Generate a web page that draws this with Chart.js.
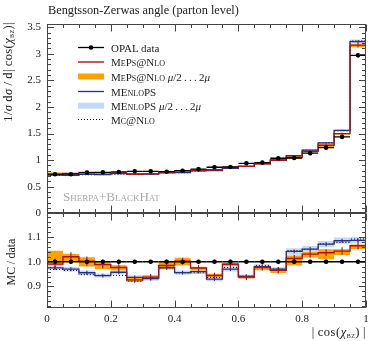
<!DOCTYPE html>
<html>
<head>
<meta charset="utf-8">
<script src="https://cdn.jsdelivr.net/npm/chart.js@4.4.0/dist/chart.umd.min.js"></script>
<style>
body { margin: 0; background: #fff; }
#wrap { position: relative; width: 378px; height: 341px; font-family: 'Liberation Serif', 'DejaVu Serif', serif; color: #222; }
#wrap canvas { position: absolute; left: 0; top: 0; }
.t { position: absolute; white-space: nowrap; line-height: 12px; }
.sc { font-variant: small-caps; }
sub { font-size: 0.72em; vertical-align: -0.25em; line-height: 0; }
</style>
</head>
<body>
<div id="wrap">
  <canvas id="chartdiv" width="378" height="341"></canvas>
  <div class="t" style="left:48px;top:4px;font-size:12.3px">Bengtsson-Zerwas angle (parton level)</div>
  <div class="t" style="left:2px;top:142px;width:120px;text-align:right;font-size:12.5px;letter-spacing:0.4px;transform-origin:0 0;transform:rotate(-90deg)">1/<i>σ</i>&thinsp;d<i>σ</i>&thinsp;/&thinsp;d|&thinsp;cos(<i>χ</i><sub class="sc">bz</sub>)|</div>
  <div class="t" style="left:5px;top:312px;width:100px;text-align:center;font-size:12px;transform-origin:0 0;transform:rotate(-90deg)">MC&thinsp;/&thinsp;data</div>
  <div class="t" style="right:12px;top:326px;font-size:12.5px;letter-spacing:0.5px">|&thinsp;cos(<i>χ</i><sub class="sc">bz</sub>)&thinsp;|</div>
  <div class="t sc" style="left:63px;top:191px;font-size:13px;color:#aaa">Sherpa+BlackHat</div>
  <div class="t" style="left:111px;top:41.5px;font-size:11px">OPAL data</div>
  <div class="t" style="left:111px;top:56px;font-size:11px"><span class="sc">MePs@Nlo</span></div>
  <div class="t" style="left:111px;top:70.5px;font-size:11px"><span class="sc">MePs@Nlo</span> <i>μ</i>/2&thinsp;.&thinsp;.&thinsp;.&thinsp;2<i>μ</i></div>
  <div class="t" style="left:111px;top:85.5px;font-size:11px"><span class="sc">MEnloPS</span></div>
  <div class="t" style="left:111px;top:99.7px;font-size:11px"><span class="sc">MEnloPS</span> <i>μ</i>/2&thinsp;.&thinsp;.&thinsp;.&thinsp;2<i>μ</i></div>
  <div class="t" style="left:111px;top:113.5px;font-size:11px"><span class="sc">Mc@Nlo</span></div>
</div>
<script>
// bins of |cos(chi_BZ)|
const binLo = [0, 0.05, 0.1, 0.15, 0.2, 0.25, 0.3, 0.35, 0.4, 0.45, 0.5, 0.55, 0.6, 0.65, 0.7, 0.75, 0.8, 0.85, 0.9, 0.95];
const binW = 0.05;

const opalData = [0.735, 0.735, 0.765, 0.770, 0.778, 0.790, 0.790, 0.782, 0.800, 0.830, 0.866, 0.872, 0.940, 0.953, 1.035, 1.040, 1.130, 1.235, 1.437, 2.970];
const opalErr  = [0.006, 0.006, 0.006, 0.006, 0.006, 0.006, 0.006, 0.006, 0.006, 0.006, 0.007, 0.007, 0.007, 0.007, 0.008, 0.008, 0.009, 0.010, 0.012, 0.025];

const mepsNlo  = [0.728, 0.750, 0.767, 0.761, 0.760, 0.732, 0.741, 0.770, 0.802, 0.809, 0.818, 0.863, 0.882, 0.931, 0.999, 1.054, 1.165, 1.280, 1.499, 3.163];
const mepsErr  = [0.016, 0.013, 0.014, 0.011, 0.010, 0.009, 0.010, 0.011, 0.011, 0.010, 0.010, 0.011, 0.011, 0.012, 0.013, 0.014, 0.016, 0.018, 0.022, 0.045];
const mepsLo   = [0.724, 0.735, 0.750, 0.747, 0.751, 0.725, 0.736, 0.761, 0.788, 0.801, 0.812, 0.856, 0.876, 0.920, 0.988, 1.024, 1.150, 1.247, 1.477, 3.124];
const mepsHi   = [0.768, 0.759, 0.779, 0.770, 0.767, 0.739, 0.747, 0.782, 0.813, 0.813, 0.824, 0.868, 0.886, 0.934, 1.004, 1.066, 1.175, 1.297, 1.509, 3.178];

const menlops    = [0.717, 0.713, 0.731, 0.727, 0.745, 0.740, 0.736, 0.763, 0.765, 0.797, 0.805, 0.846, 0.884, 0.934, 1.004, 1.084, 1.188, 1.323, 1.559, 3.228];
const menlopsErr = [0.006, 0.006, 0.006, 0.006, 0.006, 0.006, 0.006, 0.006, 0.006, 0.006, 0.006, 0.007, 0.007, 0.007, 0.008, 0.008, 0.009, 0.010, 0.012, 0.025];
const menlopsLo  = [0.711, 0.706, 0.723, 0.721, 0.738, 0.733, 0.729, 0.756, 0.758, 0.789, 0.798, 0.838, 0.875, 0.925, 0.995, 1.070, 1.173, 1.307, 1.541, 3.190];
const menlopsHi  = [0.724, 0.720, 0.738, 0.733, 0.752, 0.747, 0.743, 0.770, 0.772, 0.804, 0.813, 0.854, 0.892, 0.943, 1.013, 1.097, 1.202, 1.339, 1.578, 3.267];

const mcNlo = [0.712, 0.709, 0.725, 0.728, 0.735, 0.728, 0.739, 0.763, 0.764, 0.793, 0.811, 0.852, 0.886, 0.939, 1.004, 1.087, 1.187, 1.324, 1.549, 3.243];

const mainTicks  = [0, 0.5, 1, 1.5, 2, 2.5, 3, 3.5];
const ratioTicks = [0.9, 1.0, 1.1];
const xTicks     = [0, 0.2, 0.4, 0.6, 0.8, 1];

const RED = '#a8121a', BLUE = '#2a2f86', ORANGE = '#ffa200', LIGHTBLUE = '#c4daf6';
const FONT = { family: "'Liberation Serif', 'DejaVu Serif', serif", size: 11 };

const same = arr => arr;
const ratio = arr => arr.map((v, i) => v / opalData[i]);
// bin value held from its lower edge to the next one
const steps = arr => arr.map((v, i) => ({ x: binLo[i], y: v })).concat([{ x: binLo[binLo.length - 1] + binW, y: arr[arr.length - 1] }]);
const centres = arr => arr.map((v, i) => ({ x: binLo[i] + binW / 2, y: v }));

function band(hi, lo, color, axis, order) {
  return [
    { data: steps(hi), yAxisID: axis, stepped: 'before', borderWidth: 0, borderColor: 'transparent', backgroundColor: color, fill: '+1', pointRadius: 0, order: order },
    { data: steps(lo), yAxisID: axis, stepped: 'before', borderWidth: 0, borderColor: 'transparent', fill: false, pointRadius: 0, order: order }
  ];
}

function panel(axis, f) {
  return [
    ...band(f(menlopsHi), f(menlopsLo), LIGHTBLUE, axis, 10),
    ...band(f(mepsHi), f(mepsLo), ORANGE, axis, 9),
    { data: steps(f(mcNlo)), yAxisID: axis, stepped: 'before', borderColor: '#000', borderWidth: 1, borderDash: [1, 2], pointRadius: 0, fill: false, order: 5 },
    { data: steps(f(menlops)), yAxisID: axis, stepped: 'before', borderColor: BLUE, borderWidth: 1.3, pointRadius: 0, fill: false, order: 4,
      vals: f(menlops), errs: f(menlopsErr), barColor: BLUE },
    { data: steps(f(mepsNlo)), yAxisID: axis, stepped: 'before', borderColor: RED, borderWidth: 1.4, pointRadius: 0, fill: false, order: 3,
      vals: f(mepsNlo), errs: f(mepsErr), barColor: RED },
    { data: centres(f(opalData)), yAxisID: axis, showLine: false, pointRadius: 2.3, pointBackgroundColor: '#000', pointBorderWidth: 0, order: 1,
      vals: f(opalData), errs: f(opalErr), barColor: '#000', hbars: true }
  ];
}

const errorBars = {
  id: 'errorBars',
  afterDatasetDraw(chart, args) {
    const ds = chart.data.datasets[args.index];
    if (!ds.errs) return;
    const ctx = chart.ctx, xs = chart.scales.x, ys = chart.scales[ds.yAxisID];
    ctx.save();
    ctx.strokeStyle = ds.barColor;
    ctx.lineWidth = ds.hbars ? 1.3 : 1.1;
    ds.errs.forEach((e, i) => {
      const v = ds.vals[i];
      const px = xs.getPixelForValue(binLo[i] + binW / 2);
      ctx.beginPath();
      ctx.moveTo(px, ys.getPixelForValue(v - e));
      ctx.lineTo(px, ys.getPixelForValue(v + e));
      if (ds.hbars) {
        const py = ys.getPixelForValue(v);
        ctx.moveTo(xs.getPixelForValue(binLo[i]), py);
        ctx.lineTo(xs.getPixelForValue(binLo[i] + binW), py);
      }
      ctx.stroke();
    });
    ctx.restore();
  }
};

// frames with inward ticks on every side, plus the legend symbols
const frames = {
  id: 'frames',
  afterDraw(chart) {
    const ctx = chart.ctx, xs = chart.scales.x;
    const L = Math.round(xs.left) + 0.5, R = Math.round(xs.right) - 0.5;
    ctx.save();
    ctx.strokeStyle = '#444';
    ctx.lineWidth = 1;
    [['y', mainTicks, 0.1], ['yr', ratioTicks, 0.02]].forEach(([id, major, minorStep]) => {
      const ys = chart.scales[id];
      const T = Math.round(ys.top) + 0.5, B = Math.round(ys.bottom) - 0.5;
      ctx.strokeRect(L, T, R - L, B - T);
      ctx.beginPath();
      const start = Math.ceil(ys.min / minorStep - 1e-6);
      for (let k = start; k * minorStep <= ys.max + 1e-9; k++) {
        const v = k * minorStep;
        const isMajor = major.some(m => Math.abs(m - v) < 1e-6);
        const len = isMajor ? 6.5 : 3.5;
        const py = Math.round(ys.getPixelForValue(v)) + 0.5;
        ctx.moveTo(L, py); ctx.lineTo(L + len, py);
        ctx.moveTo(R, py); ctx.lineTo(R - len, py);
      }
      for (let k = 0; k <= 20; k++) {
        const v = k * 0.05;
        const isMajor = xTicks.some(m => Math.abs(m - v) < 1e-6);
        const len = isMajor ? 7 : 3.5;
        const px = Math.round(xs.getPixelForValue(v)) + 0.5;
        ctx.moveTo(px, B); ctx.lineTo(px, B - len);
        ctx.moveTo(px, T); ctx.lineTo(px, T + len);
      }
      ctx.stroke();
    });

    // legend symbols
    const lx0 = 78, lx1 = 104, rows = [47.5, 62, 76.5, 91.5, 105.7, 119.5];
    const line = (y, color, w, dash) => {
      ctx.beginPath();
      ctx.setLineDash(dash || []);
      ctx.strokeStyle = color; ctx.lineWidth = w;
      ctx.moveTo(lx0, y); ctx.lineTo(lx1, y); ctx.stroke();
      ctx.setLineDash([]);
    };
    line(rows[0], '#000', 1.3);
    ctx.fillStyle = '#000';
    ctx.beginPath(); ctx.arc((lx0 + lx1) / 2, rows[0], 2.3, 0, 2 * Math.PI); ctx.fill();
    line(rows[1], RED, 1.4);
    ctx.fillStyle = ORANGE; ctx.fillRect(lx0, rows[2] - 3, lx1 - lx0, 6);
    line(rows[3], BLUE, 1.3);
    ctx.fillStyle = LIGHTBLUE; ctx.fillRect(lx0, rows[4] - 3, lx1 - lx0, 6);
    line(rows[5], '#000', 1, [1, 2]);
    ctx.restore();
  }
};

const yTickOpts = (list, fmt) => ({
  afterBuildTicks: s => { s.ticks = list.map(v => ({ value: v })); },
  afterFit: s => { s.width = 47; },
  grid: { display: false, drawTicks: false, tickLength: 0 },
  border: { display: false },
  ticks: { font: FONT, color: '#222', padding: 6, autoSkip: false, callback: fmt }
});

const myChart = new Chart(document.getElementById('chartdiv'), {
  type: 'line',
  data: { datasets: [...panel('y', same), ...panel('yr', ratio)] },
  options: {
    responsive: false,
    animation: false,
    devicePixelRatio: 1,
    layout: { padding: { top: 24, right: 12, left: 0, bottom: 0 } },
    plugins: { legend: { display: false }, tooltip: { enabled: false } },
    scales: {
      x: {
        type: 'linear', min: 0, max: 1, position: 'bottom',
        afterBuildTicks: s => { s.ticks = xTicks.map(v => ({ value: v })); },
        afterFit: s => { s.height = 33; },
        grid: { display: false, drawTicks: false, tickLength: 0 },
        border: { display: false },
        ticks: { font: FONT, color: '#222', padding: 5, maxRotation: 0, autoSkip: false, callback: v => String(v) }
      },
      yr: Object.assign({ type: 'linear', position: 'left', stack: 'panels', stackWeight: 94.7, min: 0.813, max: 1.196 },
        yTickOpts(ratioTicks, v => v.toFixed(1))),
      y: Object.assign({ type: 'linear', position: 'left', stack: 'panels', stackWeight: 189.3, min: 0, max: 3.56 },
        yTickOpts(mainTicks, v => String(v)))
    }
  },
  plugins: [errorBars, frames]
});
</script>
</body>
</html>
